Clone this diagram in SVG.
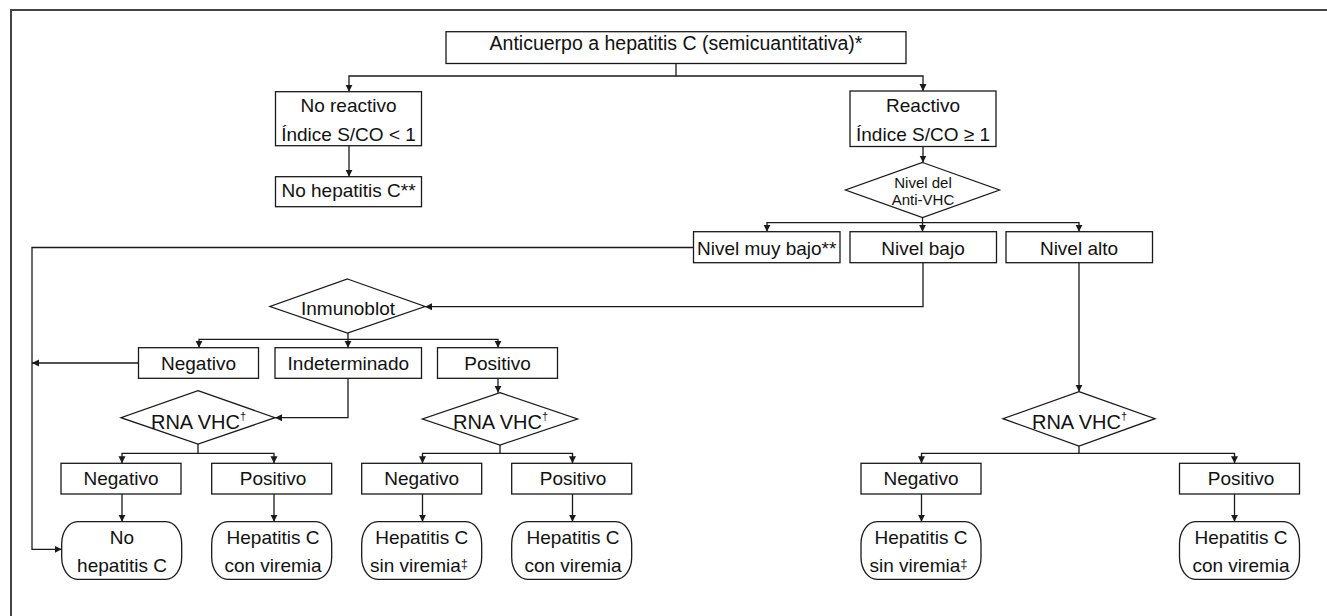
<svg xmlns="http://www.w3.org/2000/svg" width="1327" height="616" viewBox="0 0 1327 616">
<style>
.b{fill:#fff;stroke:#1a1a1a;stroke-width:1.3}
.c{fill:none;stroke:#1a1a1a;stroke-width:1.3}
.f{fill:none;stroke:#444;stroke-width:2}
text{font-family:"Liberation Sans",Arial,sans-serif;font-size:19px;fill:#111;text-anchor:middle}
.s{font-size:15px}
.r{font-size:20px}
.sup{font-size:11px}
</style>
<defs>
<marker id="ah" markerUnits="userSpaceOnUse" markerWidth="8" markerHeight="8" refX="7" refY="4" orient="auto">
<path d="M0,0.5 L7,4 L0,7.5 z" fill="#1a1a1a"/>
</marker>
</defs>
<rect width="1327" height="616" fill="#fff"/>
<path class="f" d="M11,616 V10 H1327"/>

<g id="connectors" class="c">
<path d="M676,63.5 V76"/>
<path d="M676,76 H349 V91.7" marker-end="url(#ah)"/>
<path d="M676,76 H923 V91" marker-end="url(#ah)"/>
<path d="M349,145.7 V176.7" marker-end="url(#ah)"/>
<path d="M923,146.5 V162.5" marker-end="url(#ah)"/>
<path d="M922.5,217.5 V222.7"/>
<path d="M922.5,222.7 H767 V231.7" marker-end="url(#ah)"/>
<path d="M922.5,222.7 V231.7" marker-end="url(#ah)"/>
<path d="M922.5,222.7 H1079 V231.7" marker-end="url(#ah)"/>
<path d="M693.5,247.5 H32 V549.3 H61.7" marker-end="url(#ah)"/>
<path d="M138.5,363 H32" marker-end="url(#ah)"/>
<path d="M923,262.7 V306.7 H425" marker-end="url(#ah)"/>
<path d="M1079,262.7 V391.7" marker-end="url(#ah)"/>
<path d="M348,333 V339.3"/>
<path d="M348,339.3 H199 V347.7" marker-end="url(#ah)"/>
<path d="M348,339.3 V347.7" marker-end="url(#ah)"/>
<path d="M348,339.3 H498 V347.7" marker-end="url(#ah)"/>
<path d="M348,378.3 V417.7 H275" marker-end="url(#ah)"/>
<path d="M498,378.3 V392.7" marker-end="url(#ah)"/>
<path d="M198,444 V453.3"/>
<path d="M198,453.3 H122 V463.3" marker-end="url(#ah)"/>
<path d="M198,453.3 H274 V463.3" marker-end="url(#ah)"/>
<path d="M500,445 V453.3"/>
<path d="M500,453.3 H422.5 V463.3" marker-end="url(#ah)"/>
<path d="M500,453.3 H572.5 V463.3" marker-end="url(#ah)"/>
<path d="M1079,446 V453.3"/>
<path d="M1079,453.3 H921.5 V463.3" marker-end="url(#ah)"/>
<path d="M1079,453.3 H1234.5 V463.3" marker-end="url(#ah)"/>
<path d="M122,494 V521.7" marker-end="url(#ah)"/>
<path d="M274,494 V521.7" marker-end="url(#ah)"/>
<path d="M422.5,494 V521.7" marker-end="url(#ah)"/>
<path d="M572.5,494 V521.7" marker-end="url(#ah)"/>
<path d="M921.5,494 V521.7" marker-end="url(#ah)"/>
<path d="M1234.5,494 V521.7" marker-end="url(#ah)"/>
</g>

<g id="n-top"><rect class="b" x="446" y="31.7" width="460" height="31.8"/><text x="676" y="49.5" style="font-size:19.5px">Anticuerpo a hepatitis C (semicuantitativa)*</text></g>
<g id="n-noreactivo"><rect class="b" x="275.5" y="91.7" width="146" height="54"/><text x="348.5" y="112">No reactivo</text><text x="348.5" y="140.5">Índice S/CO &lt; 1</text></g>
<g id="n-nohepc"><rect class="b" x="275.5" y="176.7" width="146" height="30"/><text x="348.5" y="197">No hepatitis C**</text></g>
<g id="n-reactivo"><rect class="b" x="850" y="91" width="146" height="55.5"/><text x="923" y="112">Reactivo</text><text x="923" y="140.5">Índice S/CO ≥ 1</text></g>
<g id="n-nivel"><polygon class="b" points="922.5,162.5 999.5,190 922.5,217.5 845.5,190"/><text class="s" x="923" y="188.3">Nivel del</text><text class="s" x="923" y="205">Anti-VHC</text></g>
<g id="n-muybajo"><rect class="b" x="693.5" y="231.7" width="146.5" height="31"/><text x="766.7" y="255">Nivel muy bajo**</text></g>
<g id="n-bajo"><rect class="b" x="850" y="231.7" width="146.5" height="31"/><text x="923" y="255">Nivel bajo</text></g>
<g id="n-alto"><rect class="b" x="1006" y="231.7" width="146.5" height="31"/><text x="1079" y="255">Nivel alto</text></g>
<g id="n-inmunoblot"><polygon class="b" points="347.5,279 425,306.5 347.5,333 270,306.5"/><text x="348" y="315">Inmunoblot</text></g>
<g id="n-neg1"><rect class="b" x="138.5" y="347.7" width="120" height="30.6"/><text x="198.5" y="370">Negativo</text></g>
<g id="n-indet"><rect class="b" x="275" y="347.7" width="146.5" height="30.6"/><text x="348.3" y="370">Indeterminado</text></g>
<g id="n-pos1"><rect class="b" x="437.5" y="347.7" width="120" height="30.6"/><text x="497.5" y="370">Positivo</text></g>
<g id="n-rna1"><polygon class="b" points="198,390.7 275,417.7 198,444 121,417.7"/><text class="r" x="198.5" y="428.5">RNA VHC<tspan class="sup" dy="-9">†</tspan></text></g>
<g id="n-rna2"><polygon class="b" points="500,392.7 577.5,419 500,445 422.5,419"/><text class="r" x="500.5" y="428.5">RNA VHC<tspan class="sup" dy="-9">†</tspan></text></g>
<g id="n-rna3"><polygon class="b" points="1079,391.7 1155,418.7 1079,446 1003,418.7"/><text class="r" x="1079.5" y="428.5">RNA VHC<tspan class="sup" dy="-9">†</tspan></text></g>
<g id="n-negL"><rect class="b" x="61" y="463.3" width="120" height="30.7"/><text x="121" y="485">Negativo</text></g>
<g id="n-posL"><rect class="b" x="211.7" y="463.3" width="120" height="30.7"/><text x="273" y="485">Positivo</text></g>
<g id="n-negM"><rect class="b" x="361.7" y="463.3" width="120" height="30.7"/><text x="421.7" y="485">Negativo</text></g>
<g id="n-posM"><rect class="b" x="511.7" y="463.3" width="120" height="30.7"/><text x="573" y="485">Positivo</text></g>
<g id="n-negR"><rect class="b" x="861" y="463.3" width="120" height="30.7"/><text x="921" y="485">Negativo</text></g>
<g id="n-posR"><rect class="b" x="1179.5" y="463.3" width="120" height="30.7"/><text x="1241" y="485">Positivo</text></g>
<g id="t-nohep"><rect class="b" x="61.7" y="521.7" width="120" height="57.6" rx="16" ry="22"/><text x="122" y="544">No</text><text x="122" y="572">hepatitis C</text></g>
<g id="t-conL"><rect class="b" x="211.7" y="521.7" width="120" height="57.6" rx="16" ry="22"/><text x="273" y="544">Hepatitis C</text><text x="273" y="572">con viremia</text></g>
<g id="t-sinM"><rect class="b" x="361.7" y="521.7" width="120" height="57.6" rx="16" ry="22"/><text x="421.7" y="544">Hepatitis C</text><text x="419" y="572">sin viremia<tspan style="font-size:13px" dy="-4">‡</tspan></text></g>
<g id="t-conM"><rect class="b" x="511.7" y="521.7" width="120" height="57.6" rx="16" ry="22"/><text x="573" y="544">Hepatitis C</text><text x="573" y="572">con viremia</text></g>
<g id="t-sinR"><rect class="b" x="861" y="521.7" width="120" height="57.6" rx="16" ry="22"/><text x="921" y="544">Hepatitis C</text><text x="918.5" y="572">sin viremia<tspan style="font-size:13px" dy="-4">‡</tspan></text></g>
<g id="t-conR"><rect class="b" x="1179.5" y="521.7" width="120" height="57.6" rx="16" ry="22"/><text x="1241" y="544">Hepatitis C</text><text x="1241" y="572">con viremia</text></g>
</svg>
